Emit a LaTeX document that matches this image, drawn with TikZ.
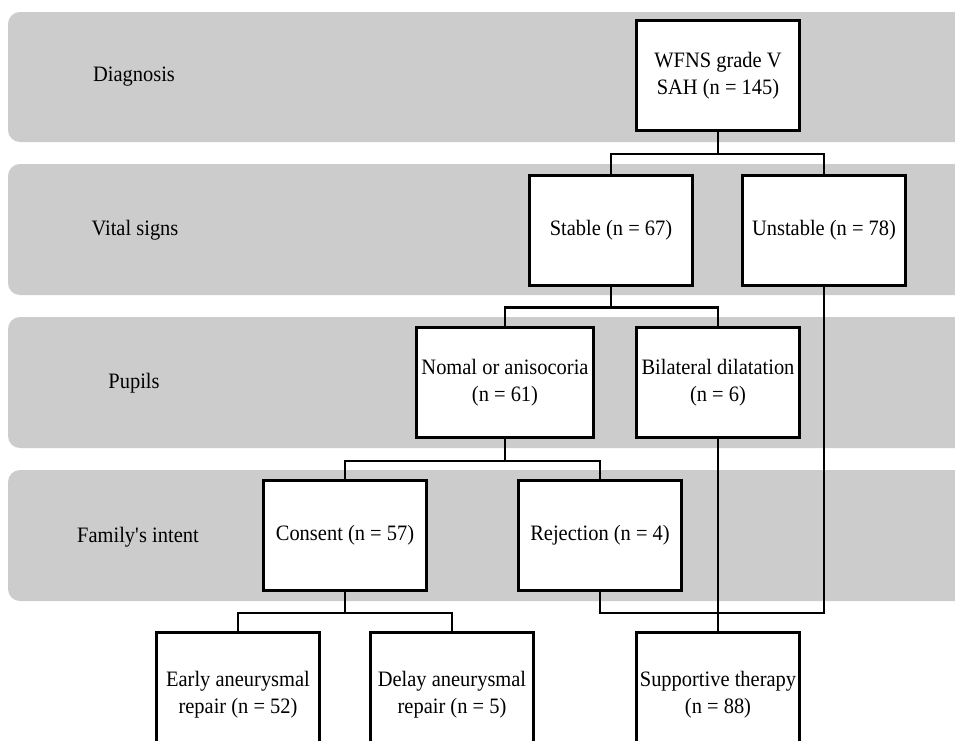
\documentclass[tikz,border=0pt]{standalone}
\usepackage{fontspec}
\setmainfont[FakeStretch=0.93]{Liberation Serif}
\begin{document}
\begin{tikzpicture}[x=1pt,y=-1pt,
  band/.style={fill=bandgray,draw=none,rounded corners=12pt},
  box/.style={draw=black,fill=white,line width=3pt,minimum width=163pt,minimum height=110pt,align=center,inner sep=1pt,font=\fontsize{22}{27}\selectfont},
  lowbox/.style={box,minimum height=126pt},
  lab/.style={font=\fontsize{22}{27}\selectfont},
  conn/.style={draw=black,line width=2.8pt}]
\definecolor{bandgray}{HTML}{CCCCCC}
\useasboundingbox (0,0) rectangle (955,740);
\clip (0,0) rectangle (955,740);
\fill[white] (0,0) rectangle (955,740);
% bands
\path[band] (8,12) rectangle (990,142);
\path[band] (8,164) rectangle (990,295);
\path[band] (8,317) rectangle (990,448);
\path[band] (8,470) rectangle (990,601);
% labels
\node[lab] (l1) at (134,77) {Diagnosis};
\node[lab] (l2) at (135,230) {Vital signs};
\node[lab] (l3) at (134,383) {Pupils};
\node[lab] (l4) at (138,537) {Family\textquotesingle s intent};
% boxes
\node[box] (wfns) at (718,75.5) {WFNS grade V\\SAH (n = 145)};
\node[box] (stable) at (611,230) {Stable (n = 67)};
\node[box] (unstable) at (824,230) {Unstable (n = 78)};
\node[box,minimum width=177pt] (nomal) at (505,382.5) {Nomal or anisocoria\\(n = 61)};
\node[box] (bilateral) at (718,382.5) {Bilateral dilatation\\(n = 6)};
\node[box] (consent) at (345,535.5) {Consent (n = 57)};
\node[box] (rejection) at (600,535.5) {Rejection (n = 4)};
\node[lowbox] (early) at (238,695) {Early aneurysmal\\repair (n = 52)};
\node[lowbox] (delay) at (452,695) {Delay aneurysmal\\repair (n = 5)};
\node[lowbox] (support) at (718,695) {Supportive therapy\\(n = 88)};
% connectors
\draw[conn] (wfns.south) -- ++(0,22) coordinate (j1);
\draw[conn] (stable.north) |- (j1) -| (unstable.north);
\draw[conn] (stable.south) -- ++(0,21) coordinate (j2);
\draw[conn] (nomal.north) |- (j2) -| (bilateral.north);
\draw[conn] (nomal.south) -- ++(0,22) coordinate (j3);
\draw[conn] (consent.north) |- (j3) -| (rejection.north);
\draw[conn] (consent.south) -- ++(0,21) coordinate (j4);
\draw[conn] (early.north) |- (j4) -| (delay.north);
\draw[conn] (rejection.south) -- ++(0,21) -| (unstable.south);
\draw[conn] (bilateral.south) -- (support.north);
\end{tikzpicture}
\end{document}
